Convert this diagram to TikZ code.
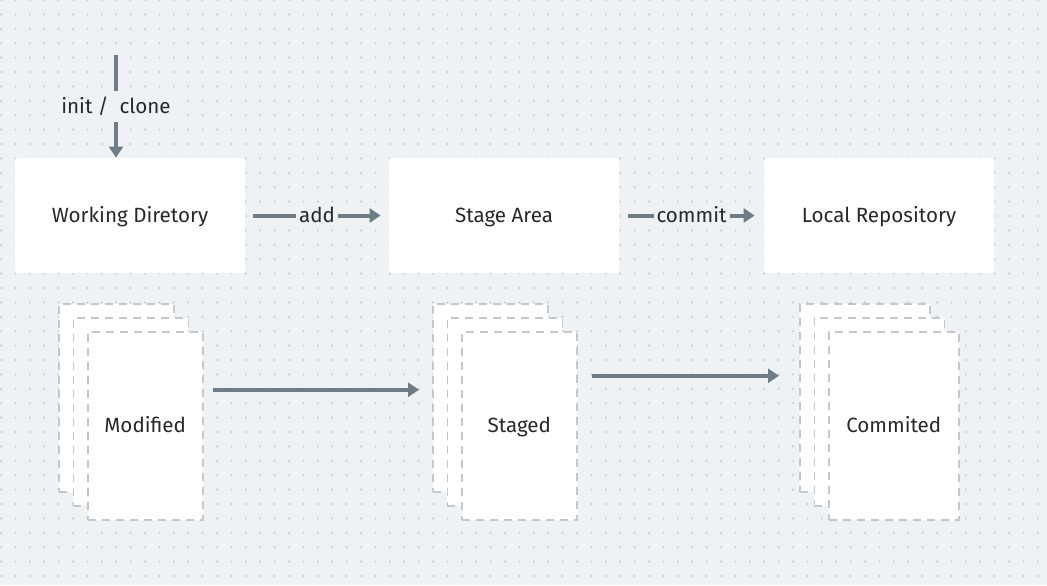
\documentclass[tikz,border=0pt]{standalone}
\usepackage{fontspec}
\setmainfont{Fira Sans}
\usepackage{xcolor}
\usepackage{tikz}
\usetikzlibrary{arrows.meta,calc}
\definecolor{bgc}{HTML}{EEF2F5}
\definecolor{dotc}{HTML}{C8CED4}
\definecolor{dashc}{HTML}{C4C8CC}
\definecolor{arrc}{HTML}{6E7C85}
\definecolor{txtc}{HTML}{25292C}

\begin{document}
\begin{tikzpicture}[
    x=0.5pt, y=-0.5pt,
    every node/.style={font=\fontsize{10.3}{12}\selectfont, text=txtc, text height=7.2pt, text depth=0pt},
    box/.style={rectangle, fill=white, rounded corners=1.5pt, minimum width=115pt, minimum height=57.5pt},
    doc/.style={rectangle, draw=dashc, fill=white, line width=0.75pt, dash pattern=on 4pt off 3pt, minimum height=94pt, anchor=north west, inner sep=0pt},
    flow/.style={draw=arrc, line width=2pt, -{Triangle[length=5.5pt,width=7pt]}},
    lbl/.style={fill=bgc, inner sep=1.5pt}
]
\fill[bgc] (0,0) rectangle (1047,585);
\useasboundingbox (0,0) rectangle (1047,585);
\foreach \i in {0,...,72}
    \foreach \j in {0,...,40}
        \fill[dotc] (1+14.4*\i, 14.4*\j) circle (0.6pt);

\node [box] (wd) at (130,215.5) {Working Diretory};
\node [box] (stage) at (504,215.5) {Stage Area};
\node [box] (repo) at (879,215.5) {Local Repository};

\coordinate (start) at (116,55);
\draw [flow] (start) -- node[lbl, inner sep=4pt] (initlbl) {init /\ \ clone} (start |- wd.north);
\draw [flow, shorten <=4pt, shorten >=4pt] (wd) -- node[lbl] (addlbl) {add} (stage);
\draw [flow, shorten <=4.5pt, shorten >=4.5pt] (stage) -- node[lbl] (commitlbl) {commit} (repo);

\foreach \n/\x/\w/\t in {mod/58/57.5pt/Modified, stg/432/57.5pt/Staged, com/799/65pt/Commited} {
    \foreach \i in {0,1,2}
        \node [doc, minimum width=\w] (\n\i) at (\x+14.5*\i, 303+14*\i) {};
    \node (\n-txt) at (\n2) {\t};
}

\draw [flow] ($(mod2.east)+(4.5pt,18pt)$) -- ($(stg0.west)+(-6.5pt,4pt)$);
\draw [flow] ($(stg2.east)+(7pt,25pt)$) -- ($(com0.west)+(-10pt,11pt)$);
\end{tikzpicture}
\end{document}
